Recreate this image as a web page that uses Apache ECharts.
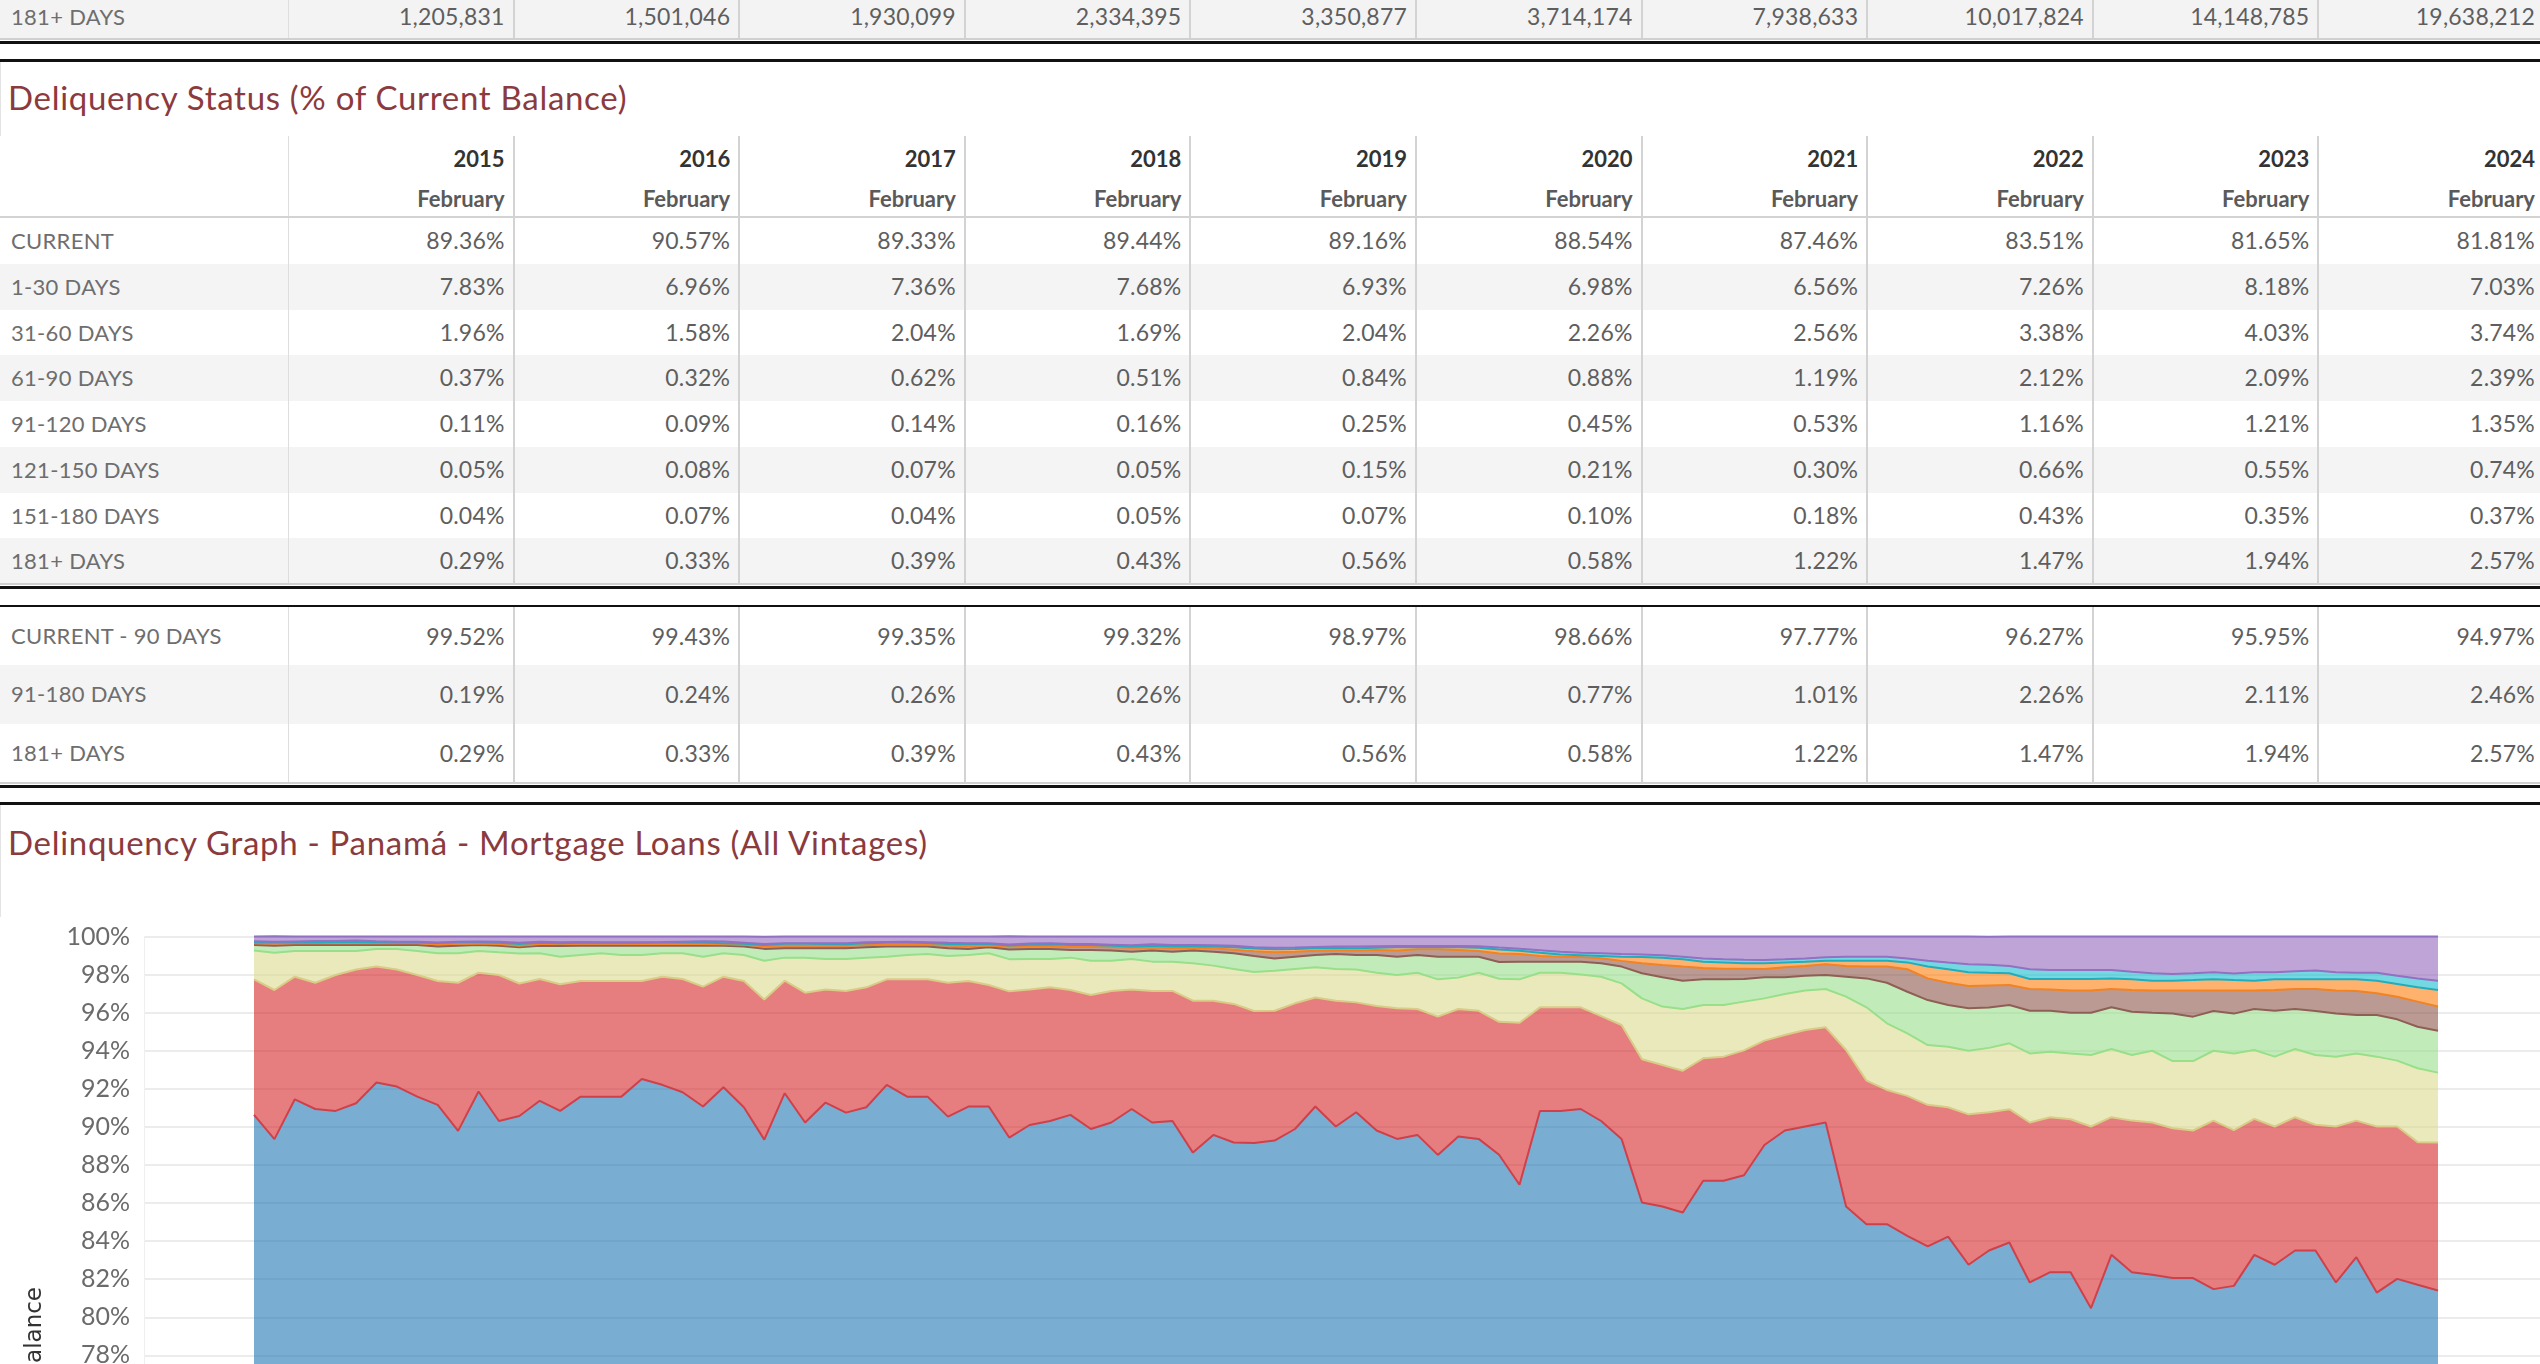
<!DOCTYPE html>
<html>
<head>
<meta charset="utf-8">
<script src="https://cdn.jsdelivr.net/npm/echarts@6/dist/echarts.min.js"></script>
<style>
  html, body { margin: 0; padding: 0; background: #fff; }
  body { width: 2540px; height: 1364px; overflow: hidden; position: relative; font-family: Lato, 'Open Sans', sans-serif; color: #666; }
  .abs { position: absolute; box-sizing: border-box; white-space: nowrap; }
  .ttl { font-size: 33px; letter-spacing: 0.7px; color: #8b3a3e; left: 8px; }
</style>
</head>
<body>
<div id="page"></div>
<div id="chart" class="abs" style="left:0;top:917px;width:2540px;height:700px"></div>
<script>
// table columns
const years = ['2015', '2016', '2017', '2018', '2019', '2020', '2021', '2022', '2023', '2024'];
const snapMonth = 'February';

// counts row at the top (cut off table above)
const count181 = [1205831, 1501046, 1930099, 2334395, 3350877, 3714174, 7938633, 10017824, 14148785, 19638212];

// Deliquency status, % of current balance
const tblCurrent = [89.36, 90.57, 89.33, 89.44, 89.16, 88.54, 87.46, 83.51, 81.65, 81.81];
const tbl1to30 = [7.83, 6.96, 7.36, 7.68, 6.93, 6.98, 6.56, 7.26, 8.18, 7.03];
const tbl31to60 = [1.96, 1.58, 2.04, 1.69, 2.04, 2.26, 2.56, 3.38, 4.03, 3.74];
const tbl61to90 = [0.37, 0.32, 0.62, 0.51, 0.84, 0.88, 1.19, 2.12, 2.09, 2.39];
const tbl91to120 = [0.11, 0.09, 0.14, 0.16, 0.25, 0.45, 0.53, 1.16, 1.21, 1.35];
const tbl121to150 = [0.05, 0.08, 0.07, 0.05, 0.15, 0.21, 0.30, 0.66, 0.55, 0.74];
const tbl151to180 = [0.04, 0.07, 0.04, 0.05, 0.07, 0.10, 0.18, 0.43, 0.35, 0.37];
const tbl181 = [0.29, 0.33, 0.39, 0.43, 0.56, 0.58, 1.22, 1.47, 1.94, 2.57];

// summary rows
const sumCur90 = [99.52, 99.43, 99.35, 99.32, 98.97, 98.66, 97.77, 96.27, 95.95, 94.97];
const sum91to180 = [0.19, 0.24, 0.26, 0.26, 0.47, 0.77, 1.01, 2.26, 2.11, 2.46];
const sum181 = [0.29, 0.33, 0.39, 0.43, 0.56, 0.58, 1.22, 1.47, 1.94, 2.57];

// graph: monthly, Jan 2015 - Dec 2023
const monthCats = [
  'Jan 2015','Feb 2015','Mar 2015','Apr 2015','May 2015','Jun 2015','Jul 2015','Aug 2015','Sep 2015','Oct 2015','Nov 2015','Dec 2015',
  'Jan 2016','Feb 2016','Mar 2016','Apr 2016','May 2016','Jun 2016','Jul 2016','Aug 2016','Sep 2016','Oct 2016','Nov 2016','Dec 2016',
  'Jan 2017','Feb 2017','Mar 2017','Apr 2017','May 2017','Jun 2017','Jul 2017','Aug 2017','Sep 2017','Oct 2017','Nov 2017','Dec 2017',
  'Jan 2018','Feb 2018','Mar 2018','Apr 2018','May 2018','Jun 2018','Jul 2018','Aug 2018','Sep 2018','Oct 2018','Nov 2018','Dec 2018',
  'Jan 2019','Feb 2019','Mar 2019','Apr 2019','May 2019','Jun 2019','Jul 2019','Aug 2019','Sep 2019','Oct 2019','Nov 2019','Dec 2019',
  'Jan 2020','Feb 2020','Mar 2020','Apr 2020','May 2020','Jun 2020','Jul 2020','Aug 2020','Sep 2020','Oct 2020','Nov 2020','Dec 2020',
  'Jan 2021','Feb 2021','Mar 2021','Apr 2021','May 2021','Jun 2021','Jul 2021','Aug 2021','Sep 2021','Oct 2021','Nov 2021','Dec 2021',
  'Jan 2022','Feb 2022','Mar 2022','Apr 2022','May 2022','Jun 2022','Jul 2022','Aug 2022','Sep 2022','Oct 2022','Nov 2022','Dec 2022',
  'Jan 2023','Feb 2023','Mar 2023','Apr 2023','May 2023','Jun 2023','Jul 2023','Aug 2023','Sep 2023','Oct 2023','Nov 2023','Dec 2023'
];

const gCurrent = [
  90.63, 89.36, 91.45, 90.94, 90.84, 91.24, 92.33, 92.12, 91.59, 91.16,
  89.79, 91.86, 90.31, 90.57, 91.37, 90.84, 91.59, 91.59, 91.59, 92.52,
  92.21, 91.82, 91.07, 92.08, 91.03, 89.33, 91.77, 90.23, 91.28, 90.75,
  91.03, 92.21, 91.59, 91.59, 90.54, 91.07, 91.07, 89.44, 90.10, 90.31,
  90.63, 89.89, 90.23, 90.94, 90.23, 90.31, 88.65, 89.58, 89.18, 89.16,
  89.28, 89.89, 91.07, 90.02, 90.77, 89.81, 89.37, 89.58, 88.53, 89.49,
  89.37, 88.54, 86.96, 90.84, 90.84, 90.94, 90.31, 89.37, 86.03, 85.82,
  85.50, 87.17, 87.17, 87.46, 89.05, 89.81, 90.02, 90.23, 85.82, 84.89,
  84.89, 84.28, 83.72, 84.24, 82.76, 83.51, 83.93, 81.83, 82.37, 82.37,
  80.48, 83.28, 82.37, 82.23, 82.06, 82.06, 81.48, 81.65, 83.28, 82.76,
  83.51, 83.51, 81.83, 83.16, 81.30, 82.02, 81.71, 81.41
];
const g1to30 = [
  7.12, 7.83, 6.44, 6.63, 7.14, 7.03, 6.09, 6.15, 6.39, 6.50,
  7.78, 6.24, 7.67, 6.96, 6.40, 6.65, 6.07, 6.07, 6.07, 5.14,
  5.68, 5.95, 6.30, 5.81, 6.63, 7.36, 5.91, 6.82, 5.94, 6.39,
  6.30, 5.54, 6.16, 6.16, 7.03, 6.59, 6.38, 7.68, 7.12, 7.02,
  6.56, 7.04, 6.91, 6.28, 6.91, 6.83, 7.98, 7.05, 7.28, 6.93,
  6.82, 6.60, 5.73, 6.61, 5.77, 6.54, 6.86, 6.61, 7.26, 6.70,
  6.73, 6.98, 8.51, 5.44, 5.44, 5.34, 5.51, 5.98, 7.52, 7.43,
  7.45, 6.43, 6.52, 6.56, 5.48, 5.02, 5.07, 5.00, 8.22, 7.54,
  7.05, 7.35, 7.44, 6.79, 7.90, 7.26, 7.00, 8.40, 8.14, 8.03,
  9.54, 7.23, 7.96, 8.00, 7.87, 7.75, 8.85, 8.18, 7.14, 7.26,
  7.00, 6.60, 8.19, 7.17, 8.72, 8.00, 7.49, 7.77
];
const g31to60 = [
  1.51, 1.96, 1.35, 1.67, 1.26, 0.97, 0.92, 1.07, 1.26, 1.46,
  1.55, 1.14, 1.19, 1.58, 1.35, 1.45, 1.37, 1.46, 1.37, 1.37,
  1.23, 1.35, 1.57, 1.23, 1.37, 2.04, 1.21, 1.84, 1.60, 1.68,
  1.56, 1.19, 1.28, 1.33, 1.41, 1.37, 1.67, 1.69, 1.60, 1.49,
  1.70, 1.80, 1.59, 1.60, 1.54, 1.54, 1.96, 1.84, 1.83, 2.04,
  2.10, 1.80, 1.58, 1.66, 1.73, 1.75, 1.75, 1.91, 1.96, 1.65,
  2.00, 2.26, 2.28, 1.82, 1.82, 1.73, 2.07, 2.19, 3.20, 3.07,
  3.24, 2.80, 2.71, 2.56, 2.22, 2.15, 2.07, 2.01, 2.80, 3.85,
  3.50, 3.28, 3.14, 3.18, 3.34, 3.38, 3.46, 3.63, 3.44, 3.46,
  3.76, 3.58, 3.45, 3.77, 3.53, 3.65, 3.67, 4.03, 3.62, 3.67,
  3.58, 3.67, 3.67, 3.53, 3.67, 3.46, 3.88, 3.67
];
const g61to90 = [
  0.29, 0.37, 0.31, 0.31, 0.31, 0.31, 0.21, 0.21, 0.31, 0.35,
  0.40, 0.31, 0.35, 0.32, 0.40, 0.56, 0.49, 0.40, 0.49, 0.49,
  0.40, 0.40, 0.58, 0.40, 0.44, 0.62, 0.49, 0.49, 0.56, 0.56,
  0.54, 0.53, 0.44, 0.39, 0.40, 0.31, 0.31, 0.51, 0.52, 0.52,
  0.40, 0.56, 0.53, 0.38, 0.58, 0.52, 0.67, 0.73, 0.83, 0.84,
  0.65, 0.65, 0.65, 0.79, 0.76, 0.93, 0.96, 0.93, 1.19, 1.10,
  0.84, 0.88, 0.93, 0.58, 0.58, 0.67, 0.70, 0.88, 1.32, 1.54,
  1.49, 1.35, 1.35, 1.19, 1.11, 0.88, 0.78, 0.74, 1.05, 1.52,
  2.13, 2.19, 2.36, 2.19, 2.23, 2.12, 2.01, 2.24, 2.15, 2.14,
  2.22, 2.19, 2.27, 2.00, 2.50, 2.33, 2.09, 2.09, 2.15, 2.41,
  2.10, 2.31, 2.27, 2.02, 2.19, 2.17, 2.18, 2.20
];
const g91to120 = [
  0.10, 0.11, 0.10, 0.09, 0.10, 0.09, 0.10, 0.10, 0.09, 0.12,
  0.10, 0.08, 0.09, 0.09, 0.09, 0.10, 0.10, 0.10, 0.10, 0.09,
  0.08, 0.08, 0.08, 0.07, 0.10, 0.14, 0.15, 0.14, 0.15, 0.14,
  0.13, 0.10, 0.10, 0.10, 0.15, 0.16, 0.10, 0.16, 0.15, 0.14,
  0.16, 0.17, 0.18, 0.21, 0.16, 0.20, 0.15, 0.18, 0.19, 0.25,
  0.32, 0.26, 0.22, 0.19, 0.23, 0.26, 0.32, 0.30, 0.39, 0.35,
  0.30, 0.45, 0.40, 0.30, 0.26, 0.24, 0.27, 0.30, 0.52, 0.64,
  0.74, 0.60, 0.56, 0.53, 0.43, 0.52, 0.51, 0.56, 0.56, 0.62,
  0.85, 1.18, 1.14, 1.17, 1.17, 1.16, 1.05, 1.14, 1.12, 1.16,
  1.16, 0.96, 1.14, 1.16, 1.20, 1.37, 1.07, 1.21, 0.97, 1.09,
  1.05, 1.15, 1.20, 1.26, 1.14, 1.19, 1.32, 1.27
];
const g121to150 = [
  0.04, 0.05, 0.04, 0.04, 0.06, 0.07, 0.05, 0.04, 0.05, 0.07,
  0.08, 0.07, 0.06, 0.08, 0.06, 0.05, 0.05, 0.05, 0.05, 0.06,
  0.08, 0.09, 0.08, 0.06, 0.05, 0.07, 0.09, 0.10, 0.08, 0.07,
  0.09, 0.10, 0.10, 0.09, 0.08, 0.10, 0.08, 0.05, 0.08, 0.10,
  0.11, 0.10, 0.08, 0.07, 0.10, 0.09, 0.08, 0.09, 0.12, 0.15,
  0.16, 0.14, 0.13, 0.12, 0.12, 0.12, 0.17, 0.10, 0.10, 0.14,
  0.17, 0.21, 0.17, 0.17, 0.12, 0.10, 0.12, 0.22, 0.33, 0.38,
  0.38, 0.33, 0.33, 0.30, 0.30, 0.26, 0.23, 0.19, 0.28, 0.31,
  0.31, 0.36, 0.62, 0.71, 0.72, 0.66, 0.62, 0.53, 0.55, 0.61,
  0.61, 0.56, 0.56, 0.52, 0.52, 0.55, 0.59, 0.55, 0.52, 0.56,
  0.51, 0.51, 0.59, 0.61, 0.66, 0.67, 0.75, 0.87
];
const g151to180 = [
  0.06, 0.04, 0.05, 0.08, 0.05, 0.08, 0.05, 0.04, 0.03, 0.03,
  0.03, 0.04, 0.05, 0.07, 0.06, 0.05, 0.04, 0.03, 0.03, 0.03,
  0.03, 0.04, 0.07, 0.09, 0.05, 0.04, 0.03, 0.03, 0.04, 0.06,
  0.05, 0.04, 0.05, 0.04, 0.06, 0.05, 0.04, 0.05, 0.06, 0.06,
  0.05, 0.04, 0.05, 0.06, 0.07, 0.06, 0.06, 0.07, 0.08, 0.07,
  0.08, 0.08, 0.07, 0.08, 0.09, 0.08, 0.07, 0.07, 0.07, 0.07,
  0.08, 0.10, 0.11, 0.13, 0.14, 0.13, 0.14, 0.14, 0.13, 0.14,
  0.14, 0.17, 0.16, 0.18, 0.18, 0.16, 0.16, 0.18, 0.21, 0.21,
  0.21, 0.20, 0.31, 0.35, 0.42, 0.43, 0.38, 0.51, 0.47, 0.47,
  0.47, 0.44, 0.40, 0.39, 0.35, 0.36, 0.37, 0.35, 0.44, 0.37,
  0.42, 0.46, 0.37, 0.35, 0.42, 0.43, 0.47, 0.49
];
const g181 = [
  0.25, 0.29, 0.26, 0.24, 0.24, 0.21, 0.25, 0.27, 0.28, 0.31,
  0.27, 0.26, 0.28, 0.33, 0.27, 0.30, 0.29, 0.30, 0.30, 0.30,
  0.29, 0.27, 0.25, 0.26, 0.33, 0.39, 0.35, 0.35, 0.35, 0.35,
  0.30, 0.29, 0.28, 0.30, 0.33, 0.35, 0.35, 0.43, 0.37, 0.36,
  0.39, 0.40, 0.43, 0.46, 0.41, 0.45, 0.45, 0.46, 0.49, 0.56,
  0.59, 0.58, 0.55, 0.53, 0.53, 0.51, 0.50, 0.50, 0.50, 0.50,
  0.51, 0.58, 0.64, 0.72, 0.80, 0.85, 0.88, 0.92, 0.95, 0.98,
  1.06, 1.15, 1.20, 1.22, 1.23, 1.20, 1.16, 1.09, 1.06, 1.06,
  1.06, 1.16, 1.27, 1.37, 1.46, 1.47, 1.55, 1.72, 1.76, 1.76,
  1.76, 1.76, 1.85, 1.93, 1.97, 1.93, 1.88, 1.94, 1.88, 1.88,
  1.83, 1.79, 1.88, 1.90, 1.90, 2.06, 2.20, 2.32
];

// ---------- tables (plain html) ----------
const page = document.getElementById('page');
const LABEL_W = 288, COL_W = 225.6, PAD = 9;

function box(css, text) {
  const d = document.createElement('div');
  d.className = 'abs';
  d.style.cssText = css;
  if (text !== undefined) d.textContent = text;
  page.appendChild(d);
  return d;
}
function hline(y, h, color) { box(`left:0;top:${y}px;width:2540px;height:${h}px;background:${color}`); }
function colLines(y0, y1) {
  box(`left:${LABEL_W}px;top:${y0}px;width:1px;height:${y1 - y0}px;background:#dedede`);
  for (let i = 1; i < years.length; i++) {
    box(`left:${LABEL_W + COL_W * i - 1}px;top:${y0}px;width:2px;height:${y1 - y0}px;background:#d3d3d3`);
  }
}
function dataRow(y, h, bg, label, cells) {
  if (bg) box(`left:0;top:${y}px;width:2540px;height:${h}px;background:${bg}`);
  box(`left:11px;top:${y}px;height:${h}px;line-height:${h}px;font-size:22px;letter-spacing:0.3px;color:#6e6e6e`, label);
  cells.forEach((t, i) => {
    box(`left:${LABEL_W + COL_W * i}px;top:${y}px;width:${COL_W}px;height:${h}px;line-height:${h}px;padding-right:${PAD}px;text-align:right;font-size:23px;letter-spacing:0.2px;color:#5e5e5e`, t);
  });
}
const pct = v => v.toFixed(2) + '%';

// top, cut-off count row
dataRow(-5, 43, '#f3f3f3', '181+ DAYS', count181.map(v => v.toLocaleString('en-US')));
colLines(-5, 38);
hline(38, 2, '#d0d0d0');
hline(41, 3, '#111');
hline(59, 3, '#111');

// status table
box('left:0;top:62px;width:1px;height:74px;background:#e4e4e4');
box('top:78px;height:38px;line-height:38px', 'Deliquency Status (% of Current Balance)').classList.add('ttl');
colLines(136, 584);
years.forEach((yv, i) => {
  box(`left:${LABEL_W + COL_W * i}px;top:140px;width:${COL_W}px;height:38px;line-height:38px;padding-right:${PAD}px;text-align:right;font-size:22px;font-weight:700;color:#333`, yv);
  box(`left:${LABEL_W + COL_W * i}px;top:180px;width:${COL_W}px;height:38px;line-height:38px;padding-right:${PAD}px;text-align:right;font-size:22px;font-weight:700;color:#5a5a5a`, snapMonth);
});
hline(216, 2, '#d3d3d3');

const statusRows = [
  ['CURRENT', tblCurrent], ['1-30 DAYS', tbl1to30], ['31-60 DAYS', tbl31to60], ['61-90 DAYS', tbl61to90],
  ['91-120 DAYS', tbl91to120], ['121-150 DAYS', tbl121to150], ['151-180 DAYS', tbl151to180], ['181+ DAYS', tbl181]
];
statusRows.forEach(([lab, vals], r) => {
  dataRow(218 + r * 45.75, 45.75, r % 2 ? '#f4f4f4' : null, lab, vals.map(pct));
});
colLines(218, 584);
hline(583, 2, '#d0d0d0');
hline(586, 3, '#111');
hline(605, 2, '#111');

// summary table
const summaryRows = [['CURRENT - 90 DAYS', sumCur90], ['91-180 DAYS', sum91to180], ['181+ DAYS', sum181]];
summaryRows.forEach(([lab, vals], r) => {
  dataRow(607 + r * 58.3, 58.3, r % 2 ? '#f4f4f4' : null, lab, vals.map(pct));
});
colLines(607, 782);
hline(782, 2, '#d0d0d0');
hline(785, 3, '#111');
hline(802, 3, '#111');

box('left:0;top:805px;width:1px;height:112px;background:#e4e4e4');
box('top:823px;height:38px;line-height:38px', 'Delinquency Graph - Panamá - Mortgage Loans (All Vintages)').classList.add('ttl');

// ---------- graph ----------
const Y_MIN = 70, Y_MAX = 100;
const gridTop = 19.5, gridH = (Y_MAX - Y_MIN) * 19.04;

const layers = [
  ['CURRENT', gCurrent, '#1f77b4', '#d0404a'],
  ['1-30 DAYS', g1to30, '#d62728', '#d8cc86'],
  ['31-60 DAYS', g31to60, '#dbdb8d', '#98df8a'],
  ['61-90 DAYS', g61to90, '#98df8a', '#8f5f55'],
  ['91-120 DAYS', g91to120, '#8c564b', '#f28322'],
  ['121-150 DAYS', g121to150, '#ff7f0e', '#22adbe'],
  ['151-180 DAYS', g151to180, '#17becf', '#9270c2'],
  ['181+ DAYS', g181, '#9467bd', '#9270c2']
];

const chart = echarts.init(document.getElementById('chart'));
chart.setOption({
  animation: false,
  grid: [
    { left: 144, right: 0, top: gridTop, height: gridH },
    { left: 254, right: 102, top: gridTop, height: gridH }
  ],
  xAxis: [
    { gridIndex: 0, type: 'value', show: false },
    { gridIndex: 1, type: 'category', data: monthCats, boundaryGap: false, show: false }
  ],
  yAxis: [
    {
      gridIndex: 0, type: 'value', min: Y_MIN, max: Y_MAX, interval: 2,
      axisLine: { show: true, lineStyle: { color: '#efefef', width: 1 } },
      axisTick: { show: false },
      axisLabel: { formatter: '{value}%', fontFamily: 'Lato', fontSize: 25, color: '#6b6b6b', margin: 14 },
      splitLine: { lineStyle: { color: '#ececec', width: 2 } }
    },
    { gridIndex: 1, type: 'value', min: Y_MIN, max: Y_MAX, show: false, splitLine: { show: false } }
  ],
  graphic: [{
    type: 'text', x: 35, y: 1287 - 917, rotation: Math.PI / 2,
    style: { text: '% of Current Balance', font: '23px "DejaVu Sans", sans-serif', fill: '#333', align: 'right', verticalAlign: 'middle' }
  }],
  series: layers.map(([name, data, fill, line]) => ({
    name, type: 'line', stack: 'dq', data, xAxisIndex: 1, yAxisIndex: 1,
    symbol: 'none', clip: false,
    lineStyle: { color: line, width: 2 },
    itemStyle: { color: fill },
    areaStyle: { color: fill, opacity: 0.6 },
    emphasis: { disabled: true }
  }))
});
</script>
</body>
</html>
